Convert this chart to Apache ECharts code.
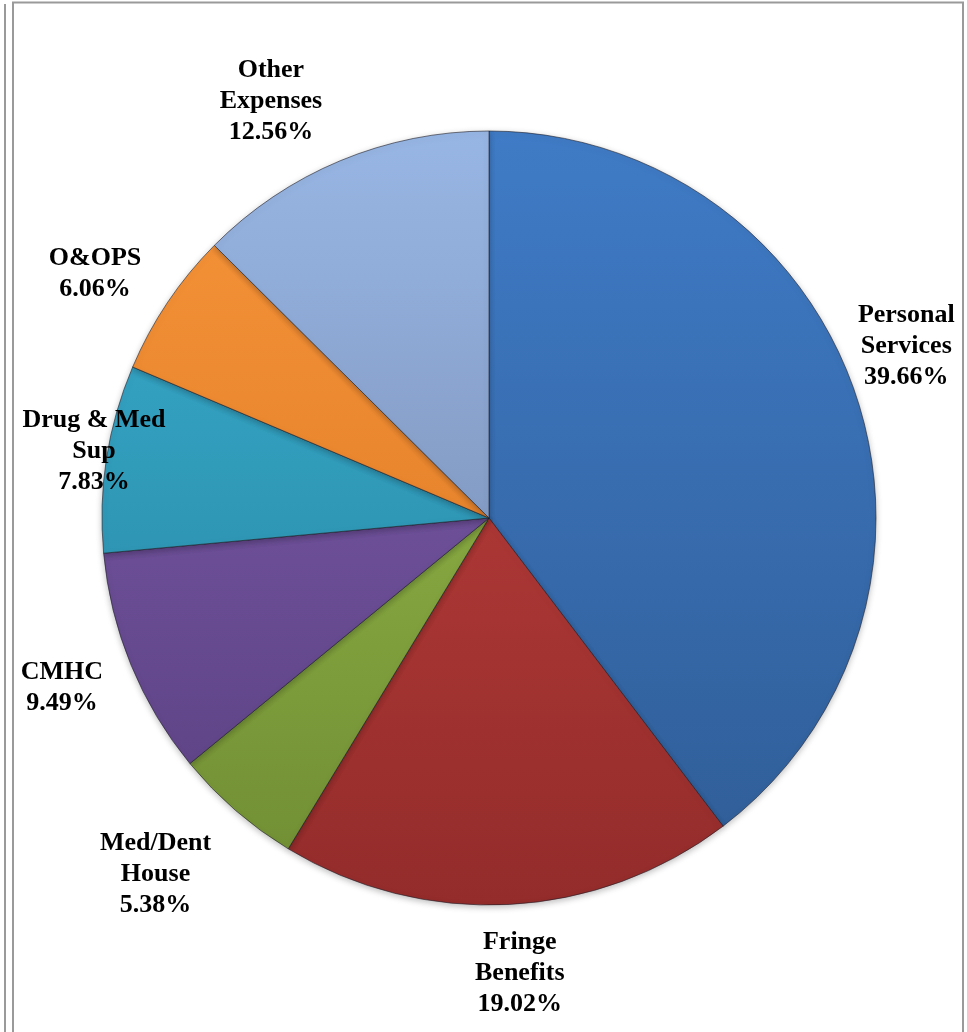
<!DOCTYPE html>
<html>
<head>
<meta charset="utf-8">
<script src="https://cdn.jsdelivr.net/npm/echarts@6/dist/echarts.min.js"></script>
<style>
  html, body { margin: 0; padding: 0; background: #ffffff; }
  #chart { width: 967px; height: 1032px; }
</style>
</head>
<body>
<div id="chart"></div>
<script>
// Budget share by expense category (percent of total)
const categories = [
  'Personal\nServices',
  'Fringe\nBenefits',
  'Med/Dent\nHouse',
  'CMHC',
  'Drug & Med\nSup',
  'O&OPS',
  'Other\nExpenses'
];
const shares = [39.66, 19.02, 5.38, 9.49, 7.83, 6.06, 12.56];

// Slice fills: lighter at the top of the pie, darker toward the bottom
const topColors    = ['#3f7bc6', '#c4423e', '#9cc24e', '#7e5fae', '#3aaed0', '#f7953a', '#98b6e4'];
const bottomColors = ['#2f5c95', '#932c2b', '#6f8c33', '#5a3f80', '#25829d', '#d77420', '#6f82a6'];

// Label placement: angular nudge (degrees) and distance from centre as a multiple of the radius
const labelNudge = [-4.0, -0.9, 2.3, 0.8, 1.0, -1.9, -4.9];
const labelReach = [1.168, 1.173, 1.258, 1.186, 1.036, 1.200, 1.220];

const CX = 489, CY = 518, R = 387;

const total = shares.reduce((a, b) => a + b, 0);
const midAngles = [];
let acc = 0;
shares.forEach(v => {
  const sweep = v / total * 360;
  midAngles.push(acc + sweep / 2);
  acc += sweep;
});

const chart = echarts.init(document.getElementById('chart'));

const data = categories.map((name, i) => ({
  name: name,
  value: shares[i],
  itemStyle: {
    color: {
      type: 'linear', global: true,
      x: 0, y: CY - R, x2: 0, y2: CY + R,
      colorStops: [
        { offset: 0, color: topColors[i] },
        { offset: 1, color: bottomColors[i] }
      ]
    }
  }
}));

chart.setOption({
  animation: false,
  backgroundColor: '#ffffff',
  graphic: [
    { type: 'line', shape: { x1: 5, y1: 4, x2: 5, y2: 1032 }, style: { stroke: '#9a9a9a', lineWidth: 2 } },
    { type: 'line', shape: { x1: 13, y1: 2.5, x2: 13, y2: 1032 }, style: { stroke: '#9a9a9a', lineWidth: 2 } },
    { type: 'line', shape: { x1: 12, y1: 2.5, x2: 964, y2: 2.5 }, style: { stroke: '#9a9a9a', lineWidth: 2 } },
    { type: 'line', shape: { x1: 963, y1: 2, x2: 963, y2: 1032 }, style: { stroke: '#9a9a9a', lineWidth: 2 } }
  ],
  series: [{
    type: 'pie',
    center: [CX, CY],
    radius: R,
    startAngle: 90,
    clockwise: true,
    data: data,
    itemStyle: {
      borderColor: 'rgba(30,30,40,0.6)',
      borderWidth: 1,
      shadowBlur: 6,
      shadowColor: 'rgba(0,0,0,0.25)',
      shadowOffsetY: 2
    },
    emphasis: { disabled: true },
    labelLine: { show: false },
    label: {
      show: true,
      position: 'outside',
      alignTo: 'none',
      overflow: 'none',
      width: 300,
      formatter: p => p.name + '\n' + p.value.toFixed(2) + '%',
      fontFamily: '"Liberation Serif", "Times New Roman", serif',
      fontWeight: 'bold',
      fontSize: 26,
      lineHeight: 31,
      color: '#000000',
      align: 'center'
    },
    labelLayout: function (params) {
      const i = params.dataIndex;
      const a = (midAngles[i] + labelNudge[i]) * Math.PI / 180;
      const d = R * labelReach[i];
      return {
        x: CX + d * Math.sin(a),
        y: CY - d * Math.cos(a) + 2,
        align: 'center',
        verticalAlign: 'middle'
      };
    }
  }]
});
</script>
</body>
</html>
